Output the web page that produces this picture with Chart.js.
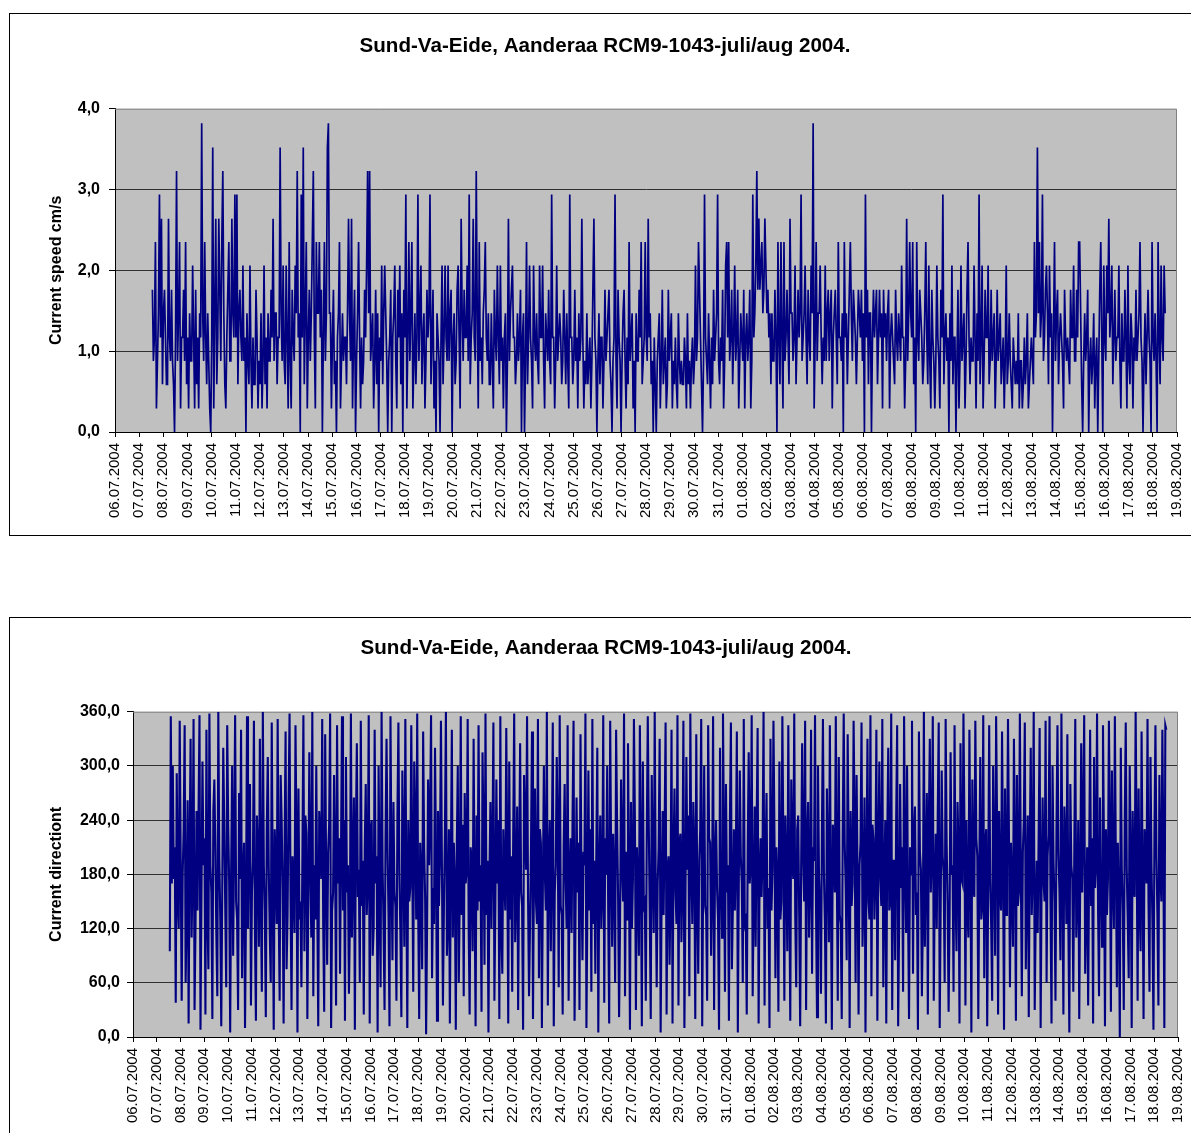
<!DOCTYPE html>
<html>
<head>
<meta charset="utf-8">
<script src="https://cdn.jsdelivr.net/npm/chart.js@4.4.1/dist/chart.umd.min.js"></script>
<style>
  html, body { margin: 0; padding: 0; background: #fff; overflow: hidden; width: 1191px; height: 1133px; }
  .frame { position: absolute; box-sizing: border-box; border: 1px solid #000; }
  canvas { position: absolute; left: 0; }
</style>
</head>
<body>
<div class="frame" style="left:9px; top:13px; width:1200px; height:523px;"></div>
<div class="frame" style="left:9px; top:617px; width:1200px; height:600px;"></div>
<canvas id="speedChart" width="1191" height="540" style="top:0"></canvas>
<canvas id="dirChart" width="1191" height="533" style="top:600px"></canvas>
<script>
// --- data (1 h spacing) ---
const chartTitle = 'Sund-Va-Eide, Aanderaa RCM9-1043-juli/aug 2004.';

const dateLabels = [
  '06.07.2004','07.07.2004','08.07.2004','09.07.2004','10.07.2004','11.07.2004','12.07.2004',
  '13.07.2004','14.07.2004','15.07.2004','16.07.2004','17.07.2004','18.07.2004','19.07.2004',
  '20.07.2004','21.07.2004','22.07.2004','23.07.2004','24.07.2004','25.07.2004','26.07.2004',
  '27.07.2004','28.07.2004','29.07.2004','30.07.2004','31.07.2004','01.08.2004','02.08.2004',
  '03.08.2004','04.08.2004','05.08.2004','06.08.2004','07.08.2004','08.08.2004','09.08.2004',
  '10.08.2004','11.08.2004','12.08.2004','13.08.2004','14.08.2004','15.08.2004','16.08.2004',
  '17.08.2004','18.08.2004','19.08.2004'
];
const speedTicks = ['0,0', '1,0', '2,0', '3,0', '4,0'];
const dirTicks = ['0,0', '60,0', '120,0', '180,0', '240,0', '300,0', '360,0'];

// first sample 07.07 ~13:00 (days after 06.07 00:00), one sample per hour
const startDay = 1.55;
const stepDay = 1 / 24;

const speed = [
  1.76,0.88,1.17,2.35,0.29,0.88,1.47,2.94,1.17,2.64,0.59,1.47,1.76,1.17,0.59,0.59,2.64,1.17,0.88,1.76,0.88,0.59,0.00,1.17,
  3.23,0.88,1.47,2.35,0.29,1.17,1.17,1.76,0.88,2.35,0.59,1.17,0.29,1.47,0.88,0.88,2.06,1.17,0.29,1.76,0.59,1.17,0.29,1.47,
  1.17,3.82,1.47,0.88,2.35,1.17,0.59,1.47,0.88,0.29,0.00,1.17,3.52,0.29,1.47,2.64,0.59,1.17,2.64,1.76,0.88,2.35,3.23,1.47,
  0.59,0.29,1.17,1.76,2.35,0.88,0.88,2.64,1.47,1.17,2.94,1.17,2.94,0.59,1.47,1.76,1.17,0.88,2.06,0.88,1.17,0.00,1.47,0.88,
  0.59,2.06,0.88,0.29,1.17,0.59,0.59,1.76,1.17,0.29,0.88,0.59,1.47,0.29,0.88,2.06,0.59,1.17,0.29,1.47,0.88,0.88,1.76,1.17,
  2.64,0.88,1.47,1.47,0.59,1.17,1.17,3.52,1.47,0.88,2.06,0.88,0.59,2.06,1.17,0.29,2.35,0.88,0.29,1.76,1.17,0.88,2.06,1.47,
  3.23,1.17,1.47,0.00,2.94,1.17,3.52,0.59,1.47,2.35,0.29,1.17,1.76,0.88,1.47,2.35,3.23,1.17,0.29,2.35,1.47,1.47,2.35,1.17,
  1.76,0.00,1.17,2.35,0.88,1.47,3.52,3.82,1.47,1.47,0.29,1.17,1.76,0.59,0.88,0.00,1.17,1.47,2.35,0.29,0.88,1.47,0.88,1.17,
  1.17,0.59,1.47,2.64,1.47,0.88,2.64,0.29,1.17,1.76,0.00,0.88,1.47,2.35,1.17,0.29,1.17,0.59,0.88,1.76,1.17,2.06,3.23,1.47,
  3.23,0.88,1.17,1.47,0.29,0.88,1.76,0.59,1.47,0.00,1.17,0.88,2.06,0.59,1.47,2.06,1.47,0.88,0.00,0.88,1.17,1.76,0.00,1.17,
  1.47,2.06,0.88,0.29,1.76,1.17,2.06,0.59,1.47,0.00,1.76,1.17,2.94,0.29,1.17,2.35,0.88,1.47,2.35,0.29,0.88,1.47,0.59,1.17,
  2.94,0.88,1.47,2.06,0.59,1.17,1.47,0.29,0.88,1.76,1.17,1.47,2.94,0.59,1.17,1.76,0.29,0.88,0.00,1.47,1.17,0.88,0.00,1.17,
  2.06,0.59,1.17,2.06,1.17,0.88,2.06,0.88,1.47,1.76,0.00,1.17,1.47,0.59,0.88,1.76,2.06,1.17,0.29,2.64,1.47,0.88,1.76,1.17,
  1.17,2.06,0.88,2.94,0.59,1.17,1.47,2.64,1.17,0.88,3.23,1.47,0.29,2.35,0.88,1.17,0.59,1.47,1.76,2.35,1.17,0.88,1.47,0.59,
  0.59,1.47,0.88,0.29,1.76,1.17,0.88,2.06,1.17,0.59,2.06,0.88,1.17,0.29,1.17,1.47,0.00,0.88,2.64,0.88,1.47,1.76,2.06,1.17,
  1.17,0.59,0.88,1.47,0.88,1.17,1.76,0.00,1.17,1.47,0.00,0.88,2.35,0.59,1.17,2.06,1.17,0.88,0.29,2.06,1.17,0.88,1.47,0.88,
  0.59,2.06,1.17,1.17,2.06,0.88,0.29,1.47,1.17,0.88,1.76,0.88,0.59,2.94,1.17,1.17,0.29,0.88,2.06,0.88,1.17,1.47,1.17,0.59,
  0.88,1.76,1.17,0.59,1.47,0.88,0.29,2.94,1.17,1.17,0.59,0.88,1.76,0.88,1.17,0.29,1.47,0.88,1.17,2.64,1.17,0.29,0.88,0.59,
  1.47,0.59,0.88,1.17,0.29,0.88,1.76,2.64,1.17,0.88,0.00,0.88,1.47,0.59,1.17,1.17,0.29,0.88,1.76,0.88,1.17,1.47,1.76,0.88,
  0.59,0.00,0.88,1.17,2.94,0.88,0.29,1.76,1.17,0.88,0.00,0.88,1.47,1.76,0.88,0.29,1.17,0.59,2.35,0.88,1.17,1.47,0.29,0.88,
  0.00,1.47,0.88,0.88,1.76,1.17,2.35,0.59,0.88,1.17,2.35,1.17,0.88,2.64,1.17,1.47,0.59,0.88,0.00,1.17,0.59,0.00,0.88,1.17,
  1.47,0.29,0.88,1.76,0.59,0.88,1.17,0.29,0.59,1.76,0.88,1.17,1.47,0.29,0.88,0.59,1.17,0.59,0.29,1.47,0.88,0.59,0.88,0.59,
  0.59,1.17,0.88,0.29,1.47,0.59,0.88,0.29,0.88,1.17,0.59,0.88,2.06,0.88,1.17,2.35,1.76,1.17,0.59,0.00,0.88,2.94,1.17,0.88,
  0.59,1.47,0.88,0.29,1.17,0.59,1.76,0.88,1.17,1.47,2.94,0.88,0.59,1.17,0.88,1.76,0.29,0.88,2.06,2.35,1.17,2.35,0.88,1.17,
  1.76,0.59,1.17,2.06,0.88,1.17,1.76,0.29,0.88,1.47,1.17,0.88,1.76,0.29,1.17,1.47,0.88,1.17,1.76,0.29,0.88,2.94,1.17,1.47,
  2.06,3.23,1.76,2.64,1.76,2.06,2.35,1.47,1.76,2.64,2.06,1.47,1.76,1.17,1.47,0.59,1.47,0.88,0.88,1.76,1.17,0.00,2.35,1.17,
  0.59,2.35,1.17,0.29,2.35,0.88,1.17,1.76,1.17,0.59,2.64,1.47,1.47,0.88,1.17,2.06,0.59,1.17,1.76,1.17,1.47,2.94,0.88,1.17,
  1.47,2.06,1.17,0.59,1.76,1.17,0.88,2.06,1.47,3.82,0.29,1.17,2.35,0.88,1.47,1.47,2.06,1.17,0.59,1.17,0.88,2.06,0.88,1.47,
  1.76,0.88,1.47,1.76,0.29,1.17,1.47,1.76,1.17,0.59,2.35,1.17,1.17,0.88,1.47,0.00,2.35,1.17,1.47,0.59,1.17,1.76,2.35,1.47,
  0.88,1.76,1.47,1.17,0.59,1.17,1.76,1.47,1.17,1.76,0.88,1.47,0.00,2.94,1.17,1.76,0.59,1.47,1.47,0.00,1.17,1.76,1.17,1.47,
  1.76,0.59,1.17,1.76,1.17,1.47,0.29,1.76,1.17,1.47,0.88,1.47,1.76,0.29,1.17,1.47,1.17,0.88,0.59,1.76,1.17,0.88,1.47,1.17,
  0.88,2.06,1.17,1.17,0.29,0.88,2.64,0.88,1.47,2.35,1.47,1.17,2.35,0.59,1.17,0.00,2.35,1.17,0.88,1.76,1.47,1.17,0.59,0.88,
  1.47,2.35,1.17,0.59,2.06,0.88,0.29,1.76,1.17,0.88,0.29,0.88,2.06,1.17,0.88,0.29,1.76,1.17,2.94,0.59,1.17,1.47,0.88,1.17,
  0.00,1.47,0.88,2.06,0.59,1.17,1.17,0.00,0.88,1.76,0.29,0.88,2.06,0.88,1.17,1.47,0.29,0.88,1.76,2.35,1.17,0.59,1.17,0.88,
  0.88,2.06,1.17,0.29,1.47,0.88,2.94,0.59,1.17,2.06,0.29,0.88,1.76,1.17,1.17,2.06,0.59,0.88,1.76,0.88,1.17,1.47,0.29,0.88,
  1.76,0.88,1.17,1.47,0.59,0.88,1.17,0.29,0.88,2.06,0.59,0.88,1.47,0.88,0.59,0.29,1.17,0.88,0.59,0.88,0.59,1.47,0.29,0.88,
  0.88,0.29,0.59,1.17,0.59,0.88,1.47,0.29,0.59,0.88,1.17,0.88,0.59,2.35,1.17,1.47,3.52,1.47,2.35,1.17,1.47,2.94,0.88,1.17,
  1.76,2.06,1.47,0.59,2.06,1.17,1.47,0.00,1.17,2.35,0.88,1.47,1.76,0.59,1.17,1.47,1.17,0.88,0.29,1.76,1.17,0.88,1.17,0.88,
  0.59,1.76,1.17,1.17,2.06,0.88,0.88,1.76,1.17,2.35,2.35,1.47,0.59,0.00,0.88,1.47,0.88,1.17,1.76,0.00,0.88,1.17,0.59,0.88,
  1.47,0.29,0.88,1.17,0.00,0.88,1.76,2.35,1.17,0.00,2.06,1.17,0.88,2.06,1.47,2.64,1.17,1.47,2.06,0.59,1.17,1.76,0.88,1.17,
  1.17,2.06,0.88,0.29,1.47,0.88,0.88,1.76,1.17,0.29,2.06,0.88,0.59,1.47,1.17,0.29,1.17,0.88,1.76,0.88,1.17,1.47,2.35,1.17,
  0.88,0.00,0.88,1.47,0.59,1.17,1.76,1.17,0.88,0.00,2.35,1.17,0.88,1.47,0.88,0.00,2.35,1.17,0.59,2.06,1.17,0.88,2.06,1.47
];

const direction = [
  95,355,170,300,175,210,38,292,150,120,350,195,40,180,230,345,60,140,262,15,205,330,110,180,
  352,30,125,250,140,245,356,8,160,305,190,220,25,340,135,75,358,190,160,20,250,285,210,115,
  45,360,200,130,12,165,320,235,145,55,345,235,170,5,185,300,90,215,356,150,130,30,270,175,
  340,65,180,215,10,140,355,120,225,280,35,160,195,350,120,18,245,205,100,330,150,50,360,190,
  140,22,230,310,185,115,60,348,170,8,230,195,125,352,145,40,290,240,165,15,210,338,75,135,
  258,358,155,30,200,175,115,345,220,5,275,130,150,55,200,356,95,245,225,20,165,315,180,110,
  360,45,190,130,300,150,12,250,215,175,352,125,28,335,180,80,205,235,358,10,140,160,290,200,
  35,345,170,220,70,205,355,140,240,18,310,160,190,48,130,358,110,195,265,8,225,325,155,185,
  60,350,145,195,25,210,280,135,175,356,15,230,240,90,120,340,170,200,5,300,155,55,360,190,
  120,30,220,330,210,135,12,355,185,85,260,160,145,40,245,348,180,115,22,295,205,100,352,170,
  10,240,150,165,345,195,50,305,230,130,358,140,20,215,175,75,338,210,155,3,125,285,190,240,
  356,65,165,125,320,200,18,250,145,200,350,185,35,145,225,360,90,130,230,15,190,340,110,215,
  175,8,210,300,60,155,355,135,235,45,270,170,185,352,120,25,210,195,95,330,160,12,245,140,
  345,150,190,28,315,225,80,358,135,195,5,180,260,120,205,348,40,150,285,170,240,20,355,115,
  70,230,175,140,342,200,15,305,130,200,50,220,358,105,165,255,30,190,325,160,145,8,290,235,
  185,355,155,45,125,210,338,20,185,275,150,125,352,65,230,215,10,170,300,180,140,360,35,200,
  240,95,195,348,12,160,190,310,225,55,356,145,135,25,210,280,170,120,345,40,180,220,115,245,
  350,18,135,265,160,215,30,335,170,85,205,190,358,10,150,295,140,230,50,352,125,195,70,205,
  320,5,185,245,120,160,356,38,220,180,300,140,15,350,195,100,225,175,60,340,235,155,22,130,
  285,190,150,358,45,205,130,325,180,8,260,120,175,352,240,30,210,165,90,345,195,12,305,145,
  150,40,225,355,235,135,20,290,190,115,360,170,55,170,210,330,5,155,250,135,230,348,25,185,
  200,80,160,340,15,200,275,160,125,356,35,215,225,105,175,350,10,140,310,185,245,45,358,190,
  125,260,205,20,335,150,70,195,230,352,12,180,300,145,135,40,345,220,215,90,165,355,30,195,
  240,165,130,8,320,185,110,358,215,50,280,160,190,18,240,348,75,145,230,140,200,338,5,175,
  295,200,170,60,352,125,130,25,210,315,170,190,356,45,150,255,100,235,342,15,180,220,155,205,
  360,35,195,270,120,165,10,330,140,185,350,225,65,210,175,28,305,130,150,355,210,40,245,185,
  95,345,160,18,285,200,175,358,135,55,230,245,135,12,190,325,200,150,350,30,220,260,110,170,
  340,70,210,195,356,145,22,300,180,145,48,230,352,180,125,15,275,195,105,345,160,8,235,215,
  160,355,185,40,310,135,125,20,225,358,215,165,85,335,200,10,250,145,170,350,240,60,290,175,
  25,190,215,348,100,160,265,5,190,330,150,130,356,45,235,220,130,180,340,18,205,305,175,145,
  352,55,175,240,15,220,320,140,150,358,30,195,195,85,240,345,12,125,280,165,210,50,355,185,
  115,300,140,20,210,180,350,70,225,255,135,160,8,338,205,185,45,130,360,100,195,270,25,235,
  330,160,200,355,40,165,225,120,245,348,10,145,295,200,180,60,352,215,145,28,135,315,180,190,
  50,345,155,95,260,210,15,325,175,170,358,230,35,240,140,110,340,195,5,285,165,155,350,220,
  200,20,185,310,130,145,356,65,215,230,12,170,345,175,125,40,300,200,90,355,235,25,250,160,
  140,338,190,8,275,135,185,352,220,55,215,160,100,330,205,18,290,145,160,358,180,45,205,240,
  348,75,165,245,22,210,320,135,185,360,30,130,195,115,225,342,10,175,265,170,150,350,60,200,
  225,355,140,15,300,195,150,40,230,345,205,160,85,358,180,25,255,215,125,335,125,5,280,190,
  175,50,205,352,110,155,240,20,175,325,160,235,356,70,140,210,35,190,340,145,220,15,310,165,
  190,358,145,45,265,180,100,345,210,12,230,135,175,350,225,28,295,170,120,355,195,55,215,150,
  0,320,185,140,30,240,348,185,130,65,300,200,10,250,165,155,360,215,40,275,145,95,338,175,
  20,230,210,170,352,150,50,310,190,125,8,225,345,200,135,35,290,180,150,340,205,10,345,340
];

Chart.defaults.font.family = "'Liberation Sans', Arial, sans-serif";
Chart.defaults.color = '#000';

const toPoints = arr => arr.map((v, i) => ({ x: startDay + i * stepDay, y: v }));

// grey plot area with a grey frame on top/right
const plotFrame = {
  id: 'plotFrame',
  beforeDraw(chart) {
    const a = chart.chartArea, ctx = chart.ctx;
    ctx.save();
    ctx.fillStyle = '#C0C0C0';
    ctx.fillRect(a.left, a.top, a.right - a.left, a.bottom - a.top);
    ctx.restore();
  },
  beforeDatasetsDraw(chart) {
    const a = chart.chartArea, ctx = chart.ctx;
    ctx.save();
    ctx.strokeStyle = '#808080';
    ctx.lineWidth = 1;
    ctx.beginPath();
    ctx.moveTo(a.left, a.top + 0.5);
    ctx.lineTo(a.right - 0.5, a.top + 0.5);
    ctx.lineTo(a.right - 0.5, a.bottom);
    ctx.stroke();
    ctx.restore();
  }
};

function makeChart(id, values, yMax, yStep, yTicks, yTitle, box) {
  return new Chart(document.getElementById(id), {
    type: 'line',
    data: {
      datasets: [{
        data: toPoints(values),
        borderColor: '#000080',
        borderWidth: box.lineWidth,
        pointRadius: 0,
        tension: 0,
        fill: false
      }]
    },
    options: {
      responsive: false,
      animation: false,
      parsing: false,
      normalized: true,
      // left padding chosen so the title centres on the frame like the original
      layout: { padding: { left: box.left, right: box.right, top: 0, bottom: 0 } },
      plugins: {
        legend: { display: false },
        tooltip: { enabled: false },
        title: {
          display: true,
          text: chartTitle,
          font: { size: 20.6, weight: 'bold' },
          color: '#000',
          padding: { top: box.titleTop, bottom: box.titleBottom }
        }
      },
      scales: {
        x: {
          type: 'linear',
          min: 0,
          max: 44,
          afterFit: s => { s.height = box.xHeight; s.paddingLeft = 0; s.paddingRight = 0; },
          grid: { drawOnChartArea: false, tickLength: 5, tickColor: '#000' },
          border: { display: true, color: '#000' },
          ticks: {
            stepSize: 1,
            autoSkip: false,
            minRotation: 90,
            maxRotation: 90,
            padding: 6,
            font: { size: 15 },
            callback: (v, i) => dateLabels[i]
          }
        },
        y: {
          min: 0,
          max: yMax,
          afterFit: s => { s.width = box.yWidth; },
          grid: {
            color: ctx => (ctx.tick && ctx.tick.value === yMax ? 'rgba(0,0,0,0)' : '#303030'),
            tickLength: 6,
            tickColor: '#000'
          },
          border: { display: true, color: '#000' },
          ticks: {
            stepSize: yStep,
            padding: box.yPad,
            font: { size: 16, weight: 'bold' },
            callback: (v, i) => yTicks[i]
          },
          title: {
            display: true,
            text: yTitle,
            font: { size: 16, weight: 'bold' },
            padding: { top: box.yTitlePad, bottom: 0 }
          }
        }
      }
    },
    plugins: [plotFrame]
  });
}

makeChart('speedChart', speed, 4, 1, speedTicks, 'Current speed cm/s',
  { left: 33, right: 14, titleTop: 34, titleBottom: 50, xHeight: 108, yWidth: 82,
    yPad: 9, yTitlePad: 14, lineWidth: 1.7 });
makeChart('dirChart', direction, 360, 60, dirTicks, 'Current directiont',
  { left: 34, right: 13, titleTop: 36, titleBottom: 51, xHeight: 96, yWidth: 99,
    yPad: 7, yTitlePad: 13, lineWidth: 2.1 });
</script>
</body>
</html>
